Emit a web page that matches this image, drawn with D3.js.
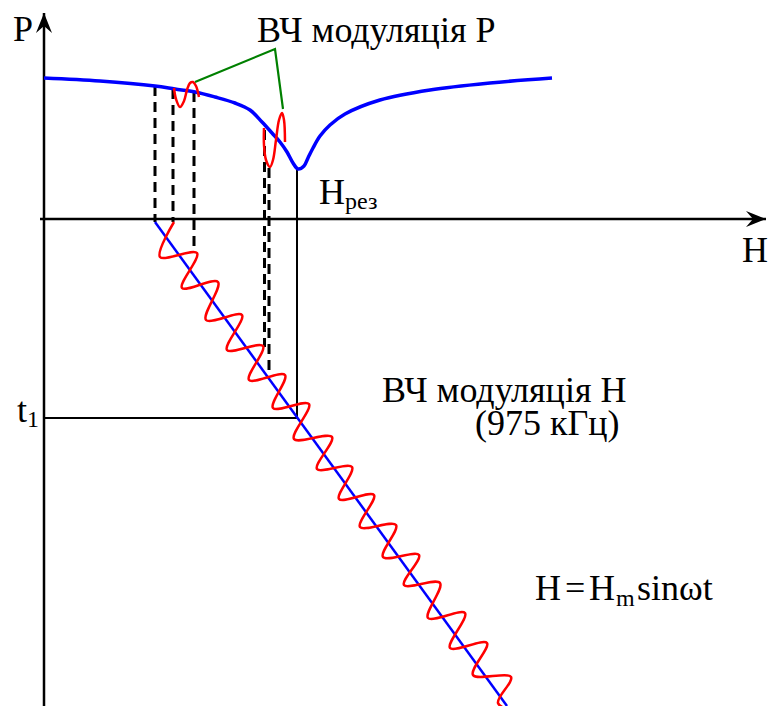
<!DOCTYPE html>
<html>
<head>
<meta charset="utf-8">
<script src="https://d3js.org/d3.v7.min.js"></script>
<style>
body { margin: 0; background: #fff; }
#chart { position: relative; width: 768px; height: 706px; }
#chart svg { position: absolute; left: 0; top: 0; }
.lbl { position: absolute; white-space: nowrap; font-family: "Liberation Serif", "Times New Roman", serif; color: #000; }
</style>
</head>
<body>
<div id="chart"></div>
<script>
// H runs along the horizontal axis, P is plotted above it, time t below it
// P(H) absorption line with the dip at H_res
const pCurve = [[0,141],[56,138],[111,133],[131,130],[151,127],[171,122],[191,116],[206,109],
  [218,97],[228,86],[236,77],[243,67],[249,56],[254,50],[260,53],[264,61],[269,71],[276,83],
  [286,94],[301,105],[336,119],[386,129],[446,136],[508,141]];
// small HF swings of P drawn on the curve
const pModLeft = [[130,131],[132,120],[136,112],[140,118],[143,129],[146,136],[149,137],[152,133],[155,122]];
const pModRight = [[220,91],[220,74],[222,59],[226,52],[229,59],[232,79],[235,99],[238,106],[240,99],[241,77]];
const hSweep = [[111,3],[463,487]];
const hWave = [[130,3],[116,38],[153,34],[138,69],[174,63],[162,101],[198,96],[183,131],[219,127],
  [205,161],[241,156],[229,189],[265,185],[250,220],[288,218],[273,250],[308,248],[295,280],
  [330,276],[316,308],[352,306],[339,338],[375,336],[360,366],[396,364],[384,399],[421,394],
  [406,429],[443,424],[429,456],[467,458],[454,484],[471,493]];
// dashed projections: H, P at top, t at bottom
const dashH = [111,129,150,220.5,225];
const dashP = [133,130,127,89,51];
const dashT = [3,3,34,128,158];
const pointer = [[151,137],[231,170],[239,110]];
const hRes = 253, t1 = 199;

const W = 768, Hh = 706;
const x = d3.scaleLinear().domain([0,720]).range([44,764]);
const yP = d3.scaleLinear().domain([0,206]).range([219,13]);
const yT = d3.scaleLinear().domain([0,487]).range([219,706]);

const chart = d3.select("#chart");
const svg = chart.append("svg").attr("width", W).attr("height", Hh);

svg.append("defs").append("marker")
  .attr("id","arr").attr("viewBox","-20 -8 20 16")
  .attr("refX",0).attr("refY",0)
  .attr("markerWidth",20).attr("markerHeight",16)
  .attr("markerUnits","userSpaceOnUse").attr("orient","auto")
  .append("path").attr("d","M0,0 L-20,-8 L-13,0 L-20,8 Z").attr("fill","#000");

// axes
svg.append("line").attr("x1",x(0)).attr("y1",Hh).attr("x2",x(0)).attr("y2",yP(206))
  .attr("stroke","#000").attr("stroke-width",2.5).attr("marker-end","url(#arr)");
svg.append("line").attr("x1",x(-4)).attr("y1",yP(0)).attr("x2",x(722)).attr("y2",yP(0))
  .attr("stroke","#000").attr("stroke-width",2.5).attr("marker-end","url(#arr)");

// resonance guide and t1
svg.append("path")
  .attr("d", d3.line()([[x(hRes),yP(49)],[x(hRes),yT(t1)],[x(0),yT(t1)]]))
  .attr("fill","none").attr("stroke","#000").attr("stroke-width",2);

// dashed projections
svg.selectAll(".dash").data(dashH).enter().append("line")
  .attr("x1",d=>x(d)).attr("x2",d=>x(d))
  .attr("y1",(d,i)=>yP(dashP[i])).attr("y2",(d,i)=>yT(dashT[i]))
  .attr("stroke","#000").attr("stroke-width",3).attr("stroke-dasharray","10,6");

const lineP = d3.line().x(d=>x(d[0])).y(d=>yP(d[1]));
const lineT = d3.line().x(d=>x(d[0])).y(d=>yT(d[1]));

// H sweep and its HF wave
svg.append("path").attr("d", lineT(hSweep))
  .attr("fill","none").attr("stroke","#0000ff").attr("stroke-width",2.5);
svg.append("path").attr("d", lineT.curve(d3.curveCatmullRom.alpha(0.5))(hWave))
  .attr("fill","none").attr("stroke","#ff0000").attr("stroke-width",2.5);

// P curve
svg.append("path").attr("d", lineP.curve(d3.curveCatmullRom.alpha(0.5))(pCurve))
  .attr("fill","none").attr("stroke","#0000ff").attr("stroke-width",3.5);
[pModLeft, pModRight].forEach(m => {
  svg.append("path").attr("d", lineP(m))
    .attr("fill","none").attr("stroke","#ff0000").attr("stroke-width",2.5);
});
svg.append("path").attr("d", lineP.curve(d3.curveLinear)(pointer))
  .attr("fill","none").attr("stroke","#008000").attr("stroke-width",2.2);

// labels as html text laid over the svg, placed by baseline
const labels = [
  [13,41,"P",36],[257,42,"ВЧ модуляція P",36],[742,262,"H",36],
  [319,204,"H",36],[345,209,"рез",24],[17,422,"t",36],[27,427,"1",24],
  [382,402,"ВЧ модуляція H",36],[475,435,"(975 кГц)",36],
  [535,600,"H",36],[565,600,"=",36],[589,600,"H",36],[616,606,"m",24],[637,600,"sinωt",36]
];
chart.selectAll(".lbl").data(labels).enter().append("div")
  .attr("class","lbl")
  .style("left", d => d[0] + "px")
  .style("top", d => (d[1] - 0.8375 * d[3]) + "px")
  .style("font-size", d => d[3] + "px")
  .style("line-height", d => d[3] + "px")
  .text(d => d[2]);
</script>
</body>
</html>
